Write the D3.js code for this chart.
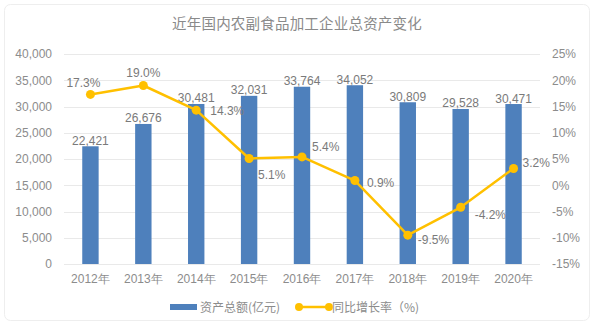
<!DOCTYPE html>
<html><head><meta charset="utf-8">
<script src="https://cdn.jsdelivr.net/npm/d3@7"></script>
<style>body{margin:0;background:#fff}svg{display:block}</style>
</head><body>
<svg id="c" width="594" height="325"></svg>
<script>
const years = ["2012年","2013年","2014年","2015年","2016年","2017年","2018年","2019年","2020年"];
const assets = [22421,26676,30481,32031,33764,34052,30809,29528,30471];
const growth = [17.3,19.0,14.3,5.1,5.4,0.9,-9.5,-4.2,3.2];
const leftTicks = [0,5000,10000,15000,20000,25000,30000,35000,40000];
const rightTicks = [-15,-10,-5,0,5,10,15,20,25];
const title = "近年国内农副食品加工企业总资产变化";
const legendNames = ["资产总额(亿元)","同比增长率（%)"];

// label placement (style): [dx, dy, anchor] relative to each point
const growthLabelOffsets = [[-7,-7.5,"middle"],[0,-9,"middle"],[14,4.5,"start"],[9,21,"start"],[10,-5.5,"start"],[12,6,"start"],[10,8.5,"start"],[14,11.5,"start"],[9,-1,"start"]];

const svg = d3.select("#c");
const W=594,H=325;
const m={l:64,r:54,t:54,b:61};
const x=d3.scaleBand().domain(years).range([m.l,W-m.r]).paddingInner(0.69).paddingOuter(0.345);
const yL=d3.scaleLinear().domain([0,40000]).range([H-m.b,m.t]);
const yR=d3.scaleLinear().domain([-15,25]).range([H-m.b,m.t]);
const grey="#8c8c8c", lab="#7a7a7a";
const font="'Liberation Sans', Arial, sans-serif";
const blue="#4e80bc", gold="#ffc000";

svg.append("rect").attr("x",4.5).attr("y",4.5).attr("width",W-9).attr("height",H-9).attr("rx",6)
  .attr("fill","#fff").attr("stroke","#eeeeee");

svg.append("text").attr("x",W/2).attr("y",29).attr("text-anchor","middle")
  .attr("font-family","'Noto Sans CJK SC', sans-serif").attr("font-size",14.5).attr("fill","#8a8a8a")
  .attr("letter-spacing",0.2).text(title);

// grid
svg.append("g").selectAll("line").data(leftTicks).join("line")
  .attr("x1",m.l).attr("x2",W-m.r).attr("y1",d=>Math.round(yL(d))+0.5).attr("y2",d=>Math.round(yL(d))+0.5)
  .attr("stroke","#e9e9e9");

// left axis
const ga=svg.append("g").attr("transform",`translate(${m.l},0)`)
  .call(d3.axisLeft(yL).tickValues(leftTicks).tickFormat(d3.format(",")).tickSize(0).tickPadding(12));
ga.select(".domain").remove();
ga.selectAll("text").attr("font-family",font).attr("font-size",12).attr("fill",grey);

// right axis
const gr=svg.append("g").attr("transform",`translate(${W-m.r},0)`)
  .call(d3.axisRight(yR).tickValues(rightTicks).tickFormat(d=>d+"%").tickSize(0).tickPadding(12));
gr.select(".domain").remove();
gr.selectAll("text").attr("font-family",font).attr("font-size",12).attr("fill",grey);

// bottom axis
const gb=svg.append("g").attr("transform",`translate(0,${H-m.b})`)
  .call(d3.axisBottom(x).tickSize(0).tickPadding(10));
gb.select(".domain").remove();
gb.selectAll("text").attr("font-family",font).attr("font-size",12).attr("fill",grey);

// bars
svg.append("g").selectAll("rect").data(assets).join("rect")
  .attr("x",(d,i)=>x(years[i])).attr("width",x.bandwidth())
  .attr("y",d=>yL(d)).attr("height",d=>yL(0)-yL(d)).attr("fill",blue);
svg.append("g").selectAll("text").data(assets).join("text")
  .attr("x",(d,i)=>x(years[i])+x.bandwidth()/2).attr("y",d=>yL(d)-1.5)
  .attr("text-anchor","middle").attr("font-family",font).attr("font-size",12).attr("fill",lab)
  .text(d=>d3.format(",")(d));

// line
const cx=(i)=>x(years[i])+x.bandwidth()/2;
svg.append("path").datum(growth)
  .attr("d",d3.line().x((d,i)=>cx(i)).y(d=>yR(d)))
  .attr("fill","none").attr("stroke",gold).attr("stroke-width",2.5).attr("stroke-linejoin","round");
svg.append("g").selectAll("circle").data(growth).join("circle")
  .attr("cx",(d,i)=>cx(i)).attr("cy",d=>yR(d)).attr("r",4.5).attr("fill",gold);
svg.append("g").selectAll("text").data(growth).join("text")
  .attr("x",(d,i)=>cx(i)+growthLabelOffsets[i][0])
  .attr("y",(d,i)=>yR(d)+growthLabelOffsets[i][1])
  .attr("text-anchor",(d,i)=>growthLabelOffsets[i][2])
  .attr("font-family",font).attr("font-size",12).attr("fill",lab)
  .text(d=>d.toFixed(1)+"%");

// legend
const lg=svg.append("g");
lg.append("rect").attr("x",170).attr("y",304).attr("width",27).attr("height",6).attr("fill",blue);
lg.append("text").attr("x",200).attr("y",311.5).attr("font-family","'Noto Sans CJK SC', sans-serif")
  .attr("font-size",12).attr("fill",grey).text(legendNames[0]);
lg.append("line").attr("x1",299).attr("x2",329).attr("y1",307).attr("y2",307).attr("stroke",gold).attr("stroke-width",2.5);
lg.selectAll("circle").data([299,329]).join("circle").attr("cx",d=>d).attr("cy",307).attr("r",4).attr("fill",gold);
lg.append("text").attr("x",332).attr("y",311.5).attr("font-family","'Noto Sans CJK SC', sans-serif")
  .attr("font-size",12).attr("fill",grey).text(legendNames[1]);
</script>
</body></html>
